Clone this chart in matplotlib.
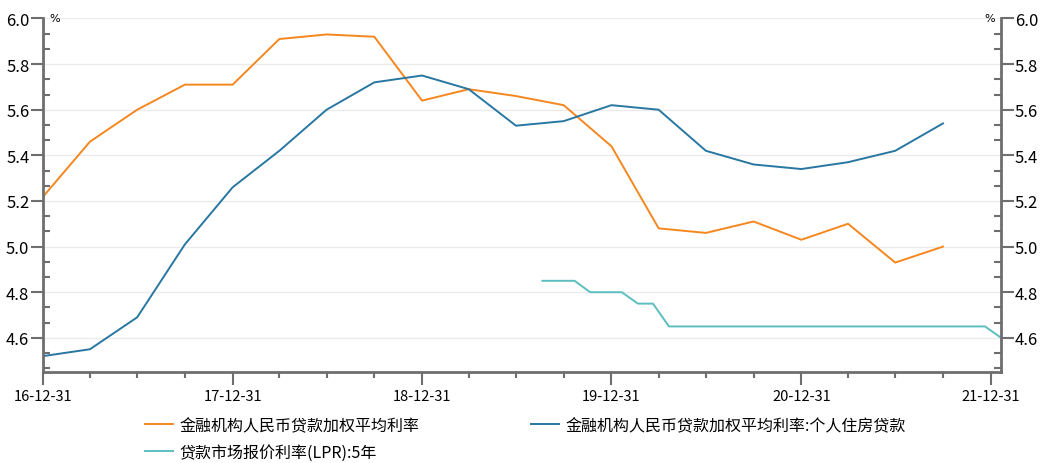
import matplotlib
matplotlib.use("Agg")
import matplotlib.pyplot as plt
import matplotlib.dates as mdates
from matplotlib.ticker import MultipleLocator, FixedLocator
import pandas as pd
import numpy as np

plt.rcParams['font.family'] = ['Noto Sans CJK SC', 'DejaVu Sans']

# ---- data ----
quarter_dates = ["2016-12-31", "2017-03-31", "2017-06-30", "2017-09-30",
                 "2017-12-31", "2018-03-31", "2018-06-30", "2018-09-30",
                 "2018-12-31", "2019-03-31", "2019-06-30", "2019-09-30",
                 "2019-12-31", "2020-03-31", "2020-06-30", "2020-09-30",
                 "2020-12-31", "2021-03-31", "2021-06-30", "2021-09-30"]
avg_rate = [5.22, 5.46, 5.60, 5.71, 5.71, 5.91, 5.93, 5.92, 5.64, 5.69,
            5.66, 5.62, 5.44, 5.08, 5.06, 5.11, 5.03, 5.10, 4.93, 5.00]
housing_rate = [4.52, 4.55, 4.69, 5.01, 5.26, 5.42, 5.60, 5.72, 5.75, 5.69,
                5.53, 5.55, 5.62, 5.60, 5.42, 5.36, 5.34, 5.37, 5.42, 5.54]

lpr_dates = ["2019-08-20", "2019-09-20", "2019-10-21", "2019-11-20", "2019-12-20",
             "2020-01-20", "2020-02-20", "2020-03-20", "2020-04-20", "2020-05-20",
             "2020-06-22", "2020-07-20", "2020-08-20", "2020-09-21", "2020-10-20",
             "2020-11-20", "2020-12-21", "2021-01-20", "2021-02-20", "2021-03-22",
             "2021-04-20", "2021-05-20", "2021-06-21", "2021-07-20", "2021-08-20",
             "2021-09-22", "2021-10-20", "2021-11-22", "2021-12-20", "2022-01-20"]
lpr_5y = [4.85, 4.85, 4.85, 4.80, 4.80, 4.80, 4.75, 4.75, 4.65, 4.65,
          4.65, 4.65, 4.65, 4.65, 4.65, 4.65, 4.65, 4.65, 4.65, 4.65,
          4.65, 4.65, 4.65, 4.65, 4.65, 4.65, 4.65, 4.65, 4.65, 4.60]

labels = ["金融机构人民币贷款加权平均利率",
          "金融机构人民币贷款加权平均利率:个人住房贷款",
          "贷款市场报价利率(LPR):5年"]
yticks = [4.6, 4.8, 5.0, 5.2, 5.4, 5.6, 5.8, 6.0]

c_orange = "#F5871F"
c_blue = "#2877A2"
c_teal = "#5DBEC0"
axis_c = "#6E6E6E"

qd = pd.to_datetime(quarter_dates)
ld = pd.to_datetime(lpr_dates)

fig = plt.figure(figsize=(10.45, 4.64), dpi=100)
ax = fig.add_axes([0.0414, 0.196, 0.9166, 0.762])

l1, = ax.plot(qd, avg_rate, color=c_orange, lw=1.4, label=labels[0])
l2, = ax.plot(qd, housing_rate, color=c_blue, lw=1.4, label=labels[1])
l3, = ax.plot(ld, lpr_5y, color=c_teal, lw=1.4, label=labels[2])

ax.set_xlim(pd.Timestamp("2016-12-31"), pd.Timestamp("2022-01-20"))
ax.set_ylim(4.45, 6.0)

# x ticks
ax.xaxis.set_major_locator(FixedLocator(mdates.date2num(pd.to_datetime(
    ["2016-12-31", "2017-12-31", "2018-12-31", "2019-12-31", "2020-12-31", "2021-12-31"]))))
minor_dates = pd.date_range("2017-03-31", "2021-12-31", freq="QE")
ax.xaxis.set_minor_locator(FixedLocator(mdates.date2num(minor_dates)))
ax.xaxis.set_major_formatter(mdates.DateFormatter("%y-%m-%d"))

# y ticks
ax.yaxis.set_major_locator(FixedLocator(yticks))
ax.yaxis.set_minor_locator(MultipleLocator(0.2 / 3))
ax.yaxis.set_major_formatter(matplotlib.ticker.FormatStrFormatter("%.1f"))

ax.grid(axis='y', which='major', color="#EBEBEB", lw=1)
ax.set_axisbelow(True)

for s in ['left', 'bottom', 'right']:
    ax.spines[s].set_color(axis_c)
    ax.spines[s].set_linewidth(2)
ax.spines['top'].set_visible(False)

ax.tick_params(axis='x', which='major', direction='out', length=9, width=1.5,
               color=axis_c, labelsize=10.5, pad=3)
ax.tick_params(axis='x', which='minor', direction='out', length=4, width=1.5,
               color=axis_c)
ax.tick_params(axis='y', which='major', direction='out', length=9, width=1.5,
               color=axis_c, labelsize=12, pad=1, left=True, right=True,
               labelleft=True, labelright=True)
ax.tick_params(axis='y', which='minor', direction='in', length=5, width=1.5,
               color=axis_c, left=True, right=True)

ax.text(0.006, 1.0, "%", transform=ax.transAxes, fontsize=8, ha='left', va='center',
        family=['DejaVu Sans'])
ax.text(0.994, 1.0, "%", transform=ax.transAxes, fontsize=8, ha='right', va='center',
        family=['DejaVu Sans'])

leg = fig.legend([l1, l3, l2], [labels[0], labels[2], labels[1]], ncol=2,
                 loc='upper left', bbox_to_anchor=(0.139, 0.099), frameon=False,
                 fontsize=11.5, handlelength=1.75, handletextpad=0.4,
                 columnspacing=7.0, labelspacing=0.6, borderpad=0, borderaxespad=0)

fig.savefig("out.png", dpi=100)
